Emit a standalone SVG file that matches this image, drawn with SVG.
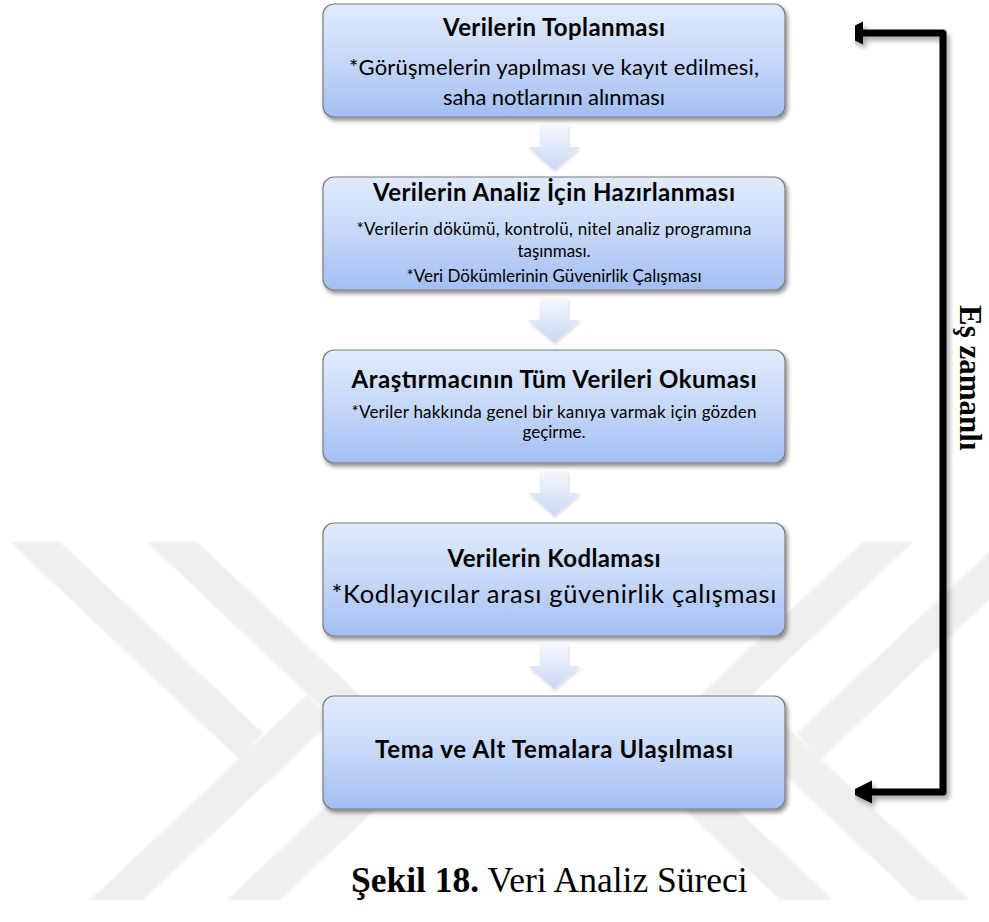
<svg xmlns="http://www.w3.org/2000/svg" width="989" height="922" viewBox="0 0 989 922">
<defs>
  <linearGradient id="boxGrad" x1="0" y1="0" x2="0" y2="1">
    <stop offset="0" stop-color="#e1ebfc"/>
    <stop offset="0.5" stop-color="#c6d8f8"/>
    <stop offset="1" stop-color="#a3bef3"/>
  </linearGradient>
  <linearGradient id="arrowGrad" x1="0" y1="0" x2="0" y2="1">
    <stop offset="0" stop-color="#f4f7fd"/>
    <stop offset="1" stop-color="#c9d8f5"/>
  </linearGradient>
  <filter id="shadow" x="-10%" y="-10%" width="130%" height="140%">
    <feDropShadow dx="2" dy="3" stdDeviation="2.2" flood-color="#000" flood-opacity="0.45"/>
  </filter>
  <filter id="ashadow" x="-20%" y="-20%" width="140%" height="140%">
    <feDropShadow dx="1" dy="2" stdDeviation="1.5" flood-color="#000" flood-opacity="0.15"/>
  </filter>
  <filter id="lshadow" x="-10%" y="-10%" width="130%" height="130%">
    <feDropShadow dx="3" dy="4" stdDeviation="2.5" flood-color="#000" flood-opacity="0.35"/>
  </filter>
  <filter id="soft" x="-5%" y="-5%" width="110%" height="110%">
    <feGaussianBlur stdDeviation="0.8"/>
  </filter>
  <marker id="head" markerUnits="userSpaceOnUse" markerWidth="30" markerHeight="30" refX="0" refY="12" orient="auto-start-reverse" viewBox="0 0 30 24">
    <path d="M0,0.5 L23,12 L0,23.5 z" fill="#000"/>
  </marker>
  <style>
    .box { fill: url(#boxGrad); stroke: #7d7d7d; stroke-width: 1.2; filter: url(#shadow); }
    .arr { fill: url(#arrowGrad); filter: url(#ashadow); }
    .title { font-family: Lato, "Liberation Sans", sans-serif; font-weight: bold; font-size: 24px; fill: #000; text-anchor: middle; }
    .sub { font-family: Lato, "Liberation Sans", sans-serif; font-size: 22px; fill: #000; text-anchor: middle; }
    .big { font-family: Lato, "Liberation Sans", sans-serif; font-size: 25.5px; fill: #000; text-anchor: middle; }
    .small { font-family: Lato, "Liberation Sans", sans-serif; font-size: 17px; fill: #000; text-anchor: middle; }
    .wm { fill: #efefef; }
    .serif { font-family: "Liberation Serif", "Times New Roman", serif; fill: #000; }
  </style>
</defs>
<rect width="989" height="922" fill="#fff"/>
<g id="watermark" filter="url(#soft)">
  <polygon class="wm" points="10,542 60,542 263,733 240,760"/>
  <polygon class="wm" points="90,900 143,900 333,720 307,695"/>
  <polygon class="wm" points="147,542 197,542 400,733 377,760"/>
  <polygon class="wm" points="227,900 280,900 470,720 444,695"/>
  <polygon class="wm" points="1050,542 1000,542 797,733 820,760"/>
  <polygon class="wm" points="970,900 917,900 727,720 753,695"/>
  <polygon class="wm" points="913,542 863,542 660,733 683,760"/>
  <polygon class="wm" points="833,900 780,900 590,720 616,695"/>
</g>
<g id="connectors">
  <polygon class="arr" points="540,125 568,125 568,147 580,147 554,170 528,147 540,147"/>
  <polygon class="arr" points="540,298 568,298 568,320 580,320 554,343 528,320 540,320"/>
  <polygon class="arr" points="540,471 568,471 568,493 580,493 554,516 528,493 540,493"/>
  <polygon class="arr" points="540,644 568,644 568,666 580,666 554,689 528,666 540,666"/>
  <path d="M 863 33 H 943 V 792 H 872" fill="none" stroke="#000" stroke-width="7" stroke-linejoin="round" marker-start="url(#head)" marker-end="url(#head)" filter="url(#lshadow)"/>
</g>
<g id="node1">
  <rect class="box" x="323" y="4" width="462" height="113" rx="11"/>
  <text class="title" x="554" y="36" textLength="222">Verilerin Toplanması</text>
  <text class="sub" x="554" y="75" textLength="410">*Görüşmelerin yapılması ve kayıt edilmesi,</text>
  <text class="sub" x="554" y="105" textLength="222">saha notlarının alınması</text>
</g>
<g id="node2">
  <rect class="box" x="323" y="177" width="462" height="113" rx="11"/>
  <text class="title" x="554" y="201" textLength="362">Verilerin Analiz İçin Hazırlanması</text>
  <text class="small" x="554" y="235" textLength="395">*Verilerin dökümü, kontrolü, nitel analiz programına</text>
  <text class="small" x="554" y="257" textLength="73">taşınması.</text>
  <text class="small" x="554" y="282" textLength="295">*Veri Dökümlerinin Güvenirlik Çalışması</text>
</g>
<g id="node3">
  <rect class="box" x="323" y="350" width="462" height="113" rx="11"/>
  <text class="title" x="554" y="388" textLength="405">Araştırmacının Tüm Verileri Okuması</text>
  <text class="small" x="554" y="418" textLength="405">*Veriler hakkında genel bir kanıya varmak için gözden</text>
  <text class="small" x="554" y="438">geçirme.</text>
</g>
<g id="node4">
  <rect class="box" x="323" y="523" width="462" height="113" rx="11"/>
  <text class="title" x="554" y="567" textLength="213">Verilerin Kodlaması</text>
  <text class="big" x="554" y="603" textLength="445">*Kodlayıcılar arası güvenirlik çalışması</text>
</g>
<g id="node5">
  <rect class="box" x="323" y="696" width="462" height="113" rx="11"/>
  <text class="title" x="554" y="758" textLength="358">Tema ve Alt Temalara Ulaşılması</text>
</g>
<g id="label-eszamanli">
  <text class="serif" transform="translate(960,305) rotate(90)" font-size="31" font-weight="bold">Eş zamanlı</text>
</g>
<g id="caption">
  <text class="serif" x="351" y="892" font-size="35.5"><tspan font-weight="bold">Şekil 18.</tspan> Veri Analiz Süreci</text>
</g>
</svg>
